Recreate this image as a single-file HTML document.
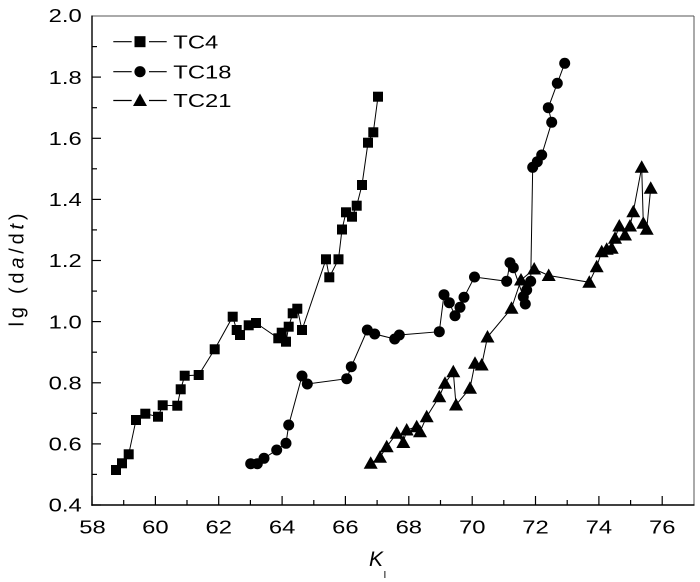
<!DOCTYPE html>
<html>
<head>
<meta charset="utf-8">
<style>
html,body{margin:0;padding:0;background:#fff;}
svg{display:block;}
text{font-family:"Liberation Sans",Arial,sans-serif;fill:#000;}
</style>
</head>
<body>
<svg width="700" height="582" viewBox="0 0 700 582" xmlns="http://www.w3.org/2000/svg">
<rect x="0" y="0" width="700" height="582" fill="#fff"/>

<!-- frame -->
<line x1="92" y1="16" x2="694" y2="16" stroke="#555" stroke-width="1"/>
<line x1="694" y1="16" x2="694" y2="505" stroke="#555" stroke-width="1"/>
<line x1="92" y1="15.5" x2="92" y2="505.7" stroke="#000" stroke-width="1.4"/>
<line x1="91.3" y1="505" x2="694.5" y2="505" stroke="#000" stroke-width="1.4"/>

<!-- y ticks -->
<g stroke="#000" stroke-width="1.2">
<line x1="92" y1="505" x2="101" y2="505"/>
<line x1="92" y1="474.4" x2="97" y2="474.4"/>
<line x1="92" y1="443.9" x2="101" y2="443.9"/>
<line x1="92" y1="413.3" x2="97" y2="413.3"/>
<line x1="92" y1="382.8" x2="101" y2="382.8"/>
<line x1="92" y1="352.2" x2="97" y2="352.2"/>
<line x1="92" y1="321.6" x2="101" y2="321.6"/>
<line x1="92" y1="291.1" x2="97" y2="291.1"/>
<line x1="92" y1="260.5" x2="101" y2="260.5"/>
<line x1="92" y1="229.9" x2="97" y2="229.9"/>
<line x1="92" y1="199.4" x2="101" y2="199.4"/>
<line x1="92" y1="168.8" x2="97" y2="168.8"/>
<line x1="92" y1="138.3" x2="101" y2="138.3"/>
<line x1="92" y1="107.7" x2="97" y2="107.7"/>
<line x1="92" y1="77.1" x2="101" y2="77.1"/>
<line x1="92" y1="46.6" x2="97" y2="46.6"/>
</g>
<!-- x ticks -->
<g stroke="#000" stroke-width="1.2">
<line x1="92" y1="505" x2="92" y2="496"/>
<line x1="123.7" y1="505" x2="123.7" y2="500"/>
<line x1="155.4" y1="505" x2="155.4" y2="496"/>
<line x1="187" y1="505" x2="187" y2="500"/>
<line x1="218.7" y1="505" x2="218.7" y2="496"/>
<line x1="250.4" y1="505" x2="250.4" y2="500"/>
<line x1="282.1" y1="505" x2="282.1" y2="496"/>
<line x1="313.8" y1="505" x2="313.8" y2="500"/>
<line x1="345.4" y1="505" x2="345.4" y2="496"/>
<line x1="377.1" y1="505" x2="377.1" y2="500"/>
<line x1="408.8" y1="505" x2="408.8" y2="496"/>
<line x1="440.5" y1="505" x2="440.5" y2="500"/>
<line x1="472.2" y1="505" x2="472.2" y2="496"/>
<line x1="503.8" y1="505" x2="503.8" y2="500"/>
<line x1="535.5" y1="505" x2="535.5" y2="496"/>
<line x1="567.2" y1="505" x2="567.2" y2="500"/>
<line x1="598.9" y1="505" x2="598.9" y2="496"/>
<line x1="630.6" y1="505" x2="630.6" y2="500"/>
<line x1="662.2" y1="505" x2="662.2" y2="496"/>
</g>

<!-- y tick labels -->
<g font-size="18.6" text-anchor="end">
<text transform="translate(81.7,511.7) scale(1.28,1)">0.4</text>
<text transform="translate(81.7,450.5) scale(1.28,1)">0.6</text>
<text transform="translate(81.7,389.4) scale(1.28,1)">0.8</text>
<text transform="translate(81.7,328.3) scale(1.28,1)">1.0</text>
<text transform="translate(81.7,267.2) scale(1.28,1)">1.2</text>
<text transform="translate(81.7,206.0) scale(1.28,1)">1.4</text>
<text transform="translate(81.7,144.9) scale(1.28,1)">1.6</text>
<text transform="translate(81.7,83.8) scale(1.28,1)">1.8</text>
<text transform="translate(81.7,22.2) scale(1.28,1)">2.0</text>
</g>
<!-- x tick labels -->
<g font-size="18.6" text-anchor="middle">
<text transform="translate(92.5,533.3) scale(1.28,1)">58</text>
<text transform="translate(155.4,533.3) scale(1.28,1)">60</text>
<text transform="translate(218.7,533.3) scale(1.28,1)">62</text>
<text transform="translate(282.1,533.3) scale(1.28,1)">64</text>
<text transform="translate(345.4,533.3) scale(1.28,1)">66</text>
<text transform="translate(408.8,533.3) scale(1.28,1)">68</text>
<text transform="translate(472.2,533.3) scale(1.28,1)">70</text>
<text transform="translate(535.5,533.3) scale(1.28,1)">72</text>
<text transform="translate(598.9,533.3) scale(1.28,1)">74</text>
<text transform="translate(662.2,533.3) scale(1.28,1)">76</text>
</g>

<!-- axis titles -->
<text transform="translate(369,566)" font-size="21" font-style="italic" textLength="14" lengthAdjust="spacingAndGlyphs">K</text>
<text x="383.5" y="578" font-size="10">I</text>
<g transform="translate(23.3,270) rotate(-90)">
<text x="0" y="0" font-size="20" text-anchor="middle" textLength="113" lengthAdjust="spacing">lg (d<tspan font-style="italic">a</tspan>/d<tspan font-style="italic">t</tspan>)</text>
</g>

<!-- TC4 -->
<polyline fill="none" stroke="#000" stroke-width="1" points="116,470 122,463.3 128.7,454.3 136,420 145.3,413.7 158,416.7 162.7,405.3 177.3,405.7 180.7,389.3 184.7,375.7 198.7,375 214.7,349.3 232.7,316.7 236.7,330 240,335 248.7,325.3 256,323 278.3,338.3 281.7,332.7 286,341.7 288.7,326.7 292.7,313.3 297.3,308.7 302,330 326,259.3 329.3,277.3 338.5,259.3 342,229.5 346,212.3 352,216.7 356.7,205.7 362,185 368,142.7 373.3,132.3 378,96.7"/>
<g fill="#000">
<rect x="111" y="465" width="10" height="10"/>
<rect x="117" y="458.3" width="10" height="10"/>
<rect x="123.7" y="449.3" width="10" height="10"/>
<rect x="131" y="415" width="10" height="10"/>
<rect x="140.3" y="408.7" width="10" height="10"/>
<rect x="153" y="411.7" width="10" height="10"/>
<rect x="157.7" y="400.3" width="10" height="10"/>
<rect x="172.3" y="400.7" width="10" height="10"/>
<rect x="175.7" y="384.3" width="10" height="10"/>
<rect x="179.7" y="370.7" width="10" height="10"/>
<rect x="193.7" y="370" width="10" height="10"/>
<rect x="209.7" y="344.3" width="10" height="10"/>
<rect x="227.7" y="311.7" width="10" height="10"/>
<rect x="231.7" y="325" width="10" height="10"/>
<rect x="235" y="330" width="10" height="10"/>
<rect x="243.7" y="320.3" width="10" height="10"/>
<rect x="251" y="318" width="10" height="10"/>
<rect x="273.3" y="333.3" width="10" height="10"/>
<rect x="276.7" y="327.7" width="10" height="10"/>
<rect x="281" y="336.7" width="10" height="10"/>
<rect x="283.7" y="321.7" width="10" height="10"/>
<rect x="287.7" y="308.3" width="10" height="10"/>
<rect x="292.3" y="303.7" width="10" height="10"/>
<rect x="297" y="325" width="10" height="10"/>
<rect x="321" y="254.3" width="10" height="10"/>
<rect x="324.3" y="272.3" width="10" height="10"/>
<rect x="333.5" y="254.3" width="10" height="10"/>
<rect x="337" y="224.5" width="10" height="10"/>
<rect x="341" y="207.3" width="10" height="10"/>
<rect x="347" y="211.7" width="10" height="10"/>
<rect x="351.7" y="200.7" width="10" height="10"/>
<rect x="357" y="180" width="10" height="10"/>
<rect x="363" y="137.7" width="10" height="10"/>
<rect x="368.3" y="127.3" width="10" height="10"/>
<rect x="373" y="91.7" width="10" height="10"/>
</g>

<!-- TC18 -->
<polyline fill="none" stroke="#000" stroke-width="1" points="250.7,463.7 257.3,463.7 264,458.3 276.7,450 286,443.3 288.7,425 302,376 307.3,384 346.7,378.7 351.3,366.7 367.3,330 374.7,334 394.7,339 399.3,335 439.3,331.7 444,294.7 449.3,302.7 455,315.7 460,307.3 464,297.3 474.5,277 506.7,281.3 510,262.7 513.3,267.7 523.3,296.7 525.3,304 526.7,290 530.7,281.3 532.7,167.3 537.3,161.7 541.7,155 551.7,122.3 548.3,107.7 557.3,83.3 564.7,63.3"/>
<g fill="#000">
<circle cx="250.7" cy="463.7" r="5.5"/>
<circle cx="257.3" cy="463.7" r="5.5"/>
<circle cx="264" cy="458.3" r="5.5"/>
<circle cx="276.7" cy="450" r="5.5"/>
<circle cx="286" cy="443.3" r="5.5"/>
<circle cx="288.7" cy="425" r="5.5"/>
<circle cx="302" cy="376" r="5.5"/>
<circle cx="307.3" cy="384" r="5.5"/>
<circle cx="346.7" cy="378.7" r="5.5"/>
<circle cx="351.3" cy="366.7" r="5.5"/>
<circle cx="367.3" cy="330" r="5.5"/>
<circle cx="374.7" cy="334" r="5.5"/>
<circle cx="394.7" cy="339" r="5.5"/>
<circle cx="399.3" cy="335" r="5.5"/>
<circle cx="439.3" cy="331.7" r="5.5"/>
<circle cx="444" cy="294.7" r="5.5"/>
<circle cx="449.3" cy="302.7" r="5.5"/>
<circle cx="455" cy="315.7" r="5.5"/>
<circle cx="460" cy="307.3" r="5.5"/>
<circle cx="464" cy="297.3" r="5.5"/>
<circle cx="474.5" cy="277" r="5.5"/>
<circle cx="506.7" cy="281.3" r="5.5"/>
<circle cx="510" cy="262.7" r="5.5"/>
<circle cx="513.3" cy="267.7" r="5.5"/>
<circle cx="523.3" cy="296.7" r="5.5"/>
<circle cx="525.3" cy="304" r="5.5"/>
<circle cx="526.7" cy="290" r="5.5"/>
<circle cx="530.7" cy="281.3" r="5.5"/>
<circle cx="532.7" cy="167.3" r="5.5"/>
<circle cx="537.3" cy="161.7" r="5.5"/>
<circle cx="541.7" cy="155" r="5.5"/>
<circle cx="551.7" cy="122.3" r="5.5"/>
<circle cx="548.3" cy="107.7" r="5.5"/>
<circle cx="557.3" cy="83.3" r="5.5"/>
<circle cx="564.7" cy="63.3" r="5.5"/>
</g>

<!-- TC21 -->
<polyline fill="none" stroke="#000" stroke-width="1" points="370.7,463.3 380,457.3 386.7,446.7 396.7,433.3 403.3,442.5 406.7,430 416.7,426.7 420,431.7 426.7,416.7 439.3,396.7 445,383.3 453.3,371.7 456,405 470,388.3 475,363.3 481.7,365 487.5,337 511.5,308.3 521,280 534.2,269 548.7,275.5 589.3,282.3 596.7,266.7 601.7,251.7 606.7,249.3 611.7,248.3 615,238.3 619.3,226 625,235 630,226 633.3,211.7 641.7,167.3 643.3,223.3 646.7,229.3 650.7,188.3"/>
<defs>
<path id="tri" d="M0,-7 L7,5.5 L-7,5.5 Z"/>
</defs>
<g fill="#000">
<use href="#tri" x="370.7" y="463.3"/>
<use href="#tri" x="380" y="457.3"/>
<use href="#tri" x="386.7" y="446.7"/>
<use href="#tri" x="396.7" y="433.3"/>
<use href="#tri" x="403.3" y="442.5"/>
<use href="#tri" x="406.7" y="430"/>
<use href="#tri" x="416.7" y="426.7"/>
<use href="#tri" x="420" y="431.7"/>
<use href="#tri" x="426.7" y="416.7"/>
<use href="#tri" x="439.3" y="396.7"/>
<use href="#tri" x="445" y="383.3"/>
<use href="#tri" x="453.3" y="371.7"/>
<use href="#tri" x="456" y="405"/>
<use href="#tri" x="470" y="388.3"/>
<use href="#tri" x="475" y="363.3"/>
<use href="#tri" x="481.7" y="365"/>
<use href="#tri" x="487.5" y="337"/>
<use href="#tri" x="511.5" y="308.3"/>
<use href="#tri" x="521" y="280"/>
<use href="#tri" x="534.2" y="269"/>
<use href="#tri" x="548.7" y="275.5"/>
<use href="#tri" x="589.3" y="282.3"/>
<use href="#tri" x="596.7" y="266.7"/>
<use href="#tri" x="601.7" y="251.7"/>
<use href="#tri" x="606.7" y="249.3"/>
<use href="#tri" x="611.7" y="248.3"/>
<use href="#tri" x="615" y="238.3"/>
<use href="#tri" x="619.3" y="226"/>
<use href="#tri" x="625" y="235"/>
<use href="#tri" x="630" y="226"/>
<use href="#tri" x="633.3" y="211.7"/>
<use href="#tri" x="641.7" y="167.3"/>
<use href="#tri" x="643.3" y="223.3"/>
<use href="#tri" x="646.7" y="229.3"/>
<use href="#tri" x="650.7" y="188.3"/>
</g>

<!-- legend -->
<g stroke="#000" stroke-width="1.2">
<line x1="113.3" y1="41.7" x2="131.7" y2="41.7"/>
<line x1="149" y1="41.7" x2="166.7" y2="41.7"/>
<line x1="113.3" y1="71.7" x2="131.7" y2="71.7"/>
<line x1="149" y1="71.7" x2="166.7" y2="71.7"/>
<line x1="113.3" y1="100.5" x2="131.7" y2="100.5"/>
<line x1="149" y1="100.5" x2="166.7" y2="100.5"/>
</g>
<rect x="134.5" y="36.2" width="11" height="11" fill="#000"/>
<circle cx="140" cy="71.7" r="5.6" fill="#000"/>
<use href="#tri" x="140" y="100.5" fill="#000"/>
<g font-size="18.6">
<text transform="translate(173.3,48.4) scale(1.28,1)">TC4</text>
<text transform="translate(173.3,78.4) scale(1.28,1)">TC18</text>
<text transform="translate(173.3,107.2) scale(1.28,1)">TC21</text>
</g>
</svg>
</body>
</html>
